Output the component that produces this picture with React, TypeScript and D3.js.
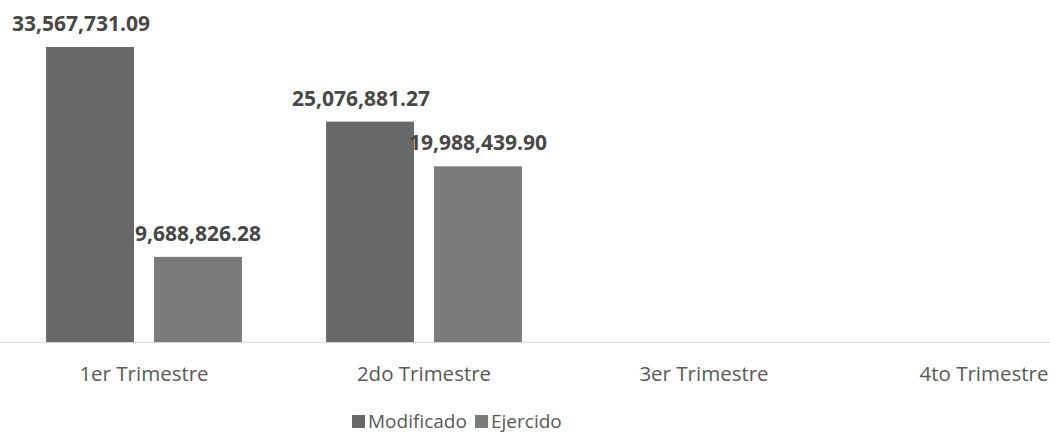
import * as d3 from 'd3';
import React, { useRef, useEffect } from 'react';

const categories = ['1er Trimestre', '2do Trimestre', '3er Trimestre', '4to Trimestre'];
const seriesNames = ['Modificado', 'Ejercido'];
const modificado: (number | null)[] = [33567731.09, 25076881.27, null, null];
const ejercido: (number | null)[] = [9688826.28, 19988439.9, null, null];
const seriesColors = ['#686868', '#7a7a7a'];

const fmt = d3.format(',.2f');

export default function App() {
  const svgRef = useRef<SVGSVGElement>(null);

  useEffect(() => {
    if (!svgRef.current) return;
    const svg = d3.select(svgRef.current);
    svg.selectAll('*').remove();

    const width = 1050;
    const baseline = 342, top = 47;

    const x0 = d3.scaleBand().domain(categories).range([4, 1124]);
    const x1 = d3.scaleBand().domain(seriesNames).range([0, x0.bandwidth()])
      .paddingInner(0.185).paddingOuter(0.39);
    const y = d3.scaleLinear().domain([0, modificado[0] as number]).range([baseline, top]);

    // axis line
    svg.append('line')
      .attr('x1', 0).attr('x2', width)
      .attr('y1', baseline + 0.5).attr('y2', baseline + 0.5)
      .attr('stroke', '#d9d9d9').attr('stroke-width', 1);

    const rows = categories.map((c, i) => ({ cat: c, vals: [modificado[i], ejercido[i]] }));

    const g = svg.selectAll('g.cat').data(rows).enter().append('g')
      .attr('class', 'cat')
      .attr('transform', d => `translate(${x0(d.cat)},0)`);

    const items = g.selectAll('g.item')
      .data(d => d.vals.map((v, j) => ({ name: seriesNames[j], v, j })).filter(e => e.v != null))
      .enter().append('g').attr('class', 'item');

    items.append('rect')
      .attr('x', d => x1(d.name)!)
      .attr('y', d => y(d.v as number))
      .attr('width', x1.bandwidth())
      .attr('height', d => baseline - y(d.v as number))
      .attr('fill', d => seriesColors[d.j]);

    items.append('text')
      .attr('x', d => x1(d.name)! + x1.bandwidth() / 2)
      .attr('y', d => y(d.v as number) - 16)
      .attr('text-anchor', 'middle')
      .attr('font-family', '"Open Sans", sans-serif')
      .attr('font-weight', 'bold')
      .attr('font-size', 21)
      .attr('fill', '#474747')
      .text(d => fmt(d.v as number))
      .each(function () {
        // the top label sits pushed towards the left edge, as in the original
        const el = this as SVGTextElement;
        const b = el.getBBox();
        if (b.x < 30) el.setAttribute('x', String(+el.getAttribute('x')! + (8 - b.x)));
      });

    // category labels
    svg.selectAll('text.cat').data(categories).enter().append('text')
      .attr('class', 'cat')
      .attr('x', d => x0(d)! + x0.bandwidth() / 2)
      .attr('y', 381)
      .attr('text-anchor', 'middle')
      .attr('font-family', '"Open Sans", sans-serif')
      .attr('font-size', 20.5)
      .attr('fill', '#595959')
      .text(d => d);

    // legend
    const legend = svg.append('g');
    const legendX = [352, 475];
    seriesNames.forEach((n, i) => {
      legend.append('rect')
        .attr('x', legendX[i]).attr('y', 415)
        .attr('width', 13).attr('height', 13)
        .attr('fill', seriesColors[i]);
      legend.append('text')
        .attr('x', legendX[i] + 16).attr('y', 428)
        .attr('font-family', '"Open Sans", sans-serif')
        .attr('font-size', 19)
        .attr('fill', '#595959')
        .text(n);
    });
  }, []);

  return (
    <div style={{ position: 'absolute', left: 0, top: 0 }}>
      <svg ref={svgRef} width={1050} height={436} style={{ display: 'block', background: '#fff' }} />
    </div>
  );
}
